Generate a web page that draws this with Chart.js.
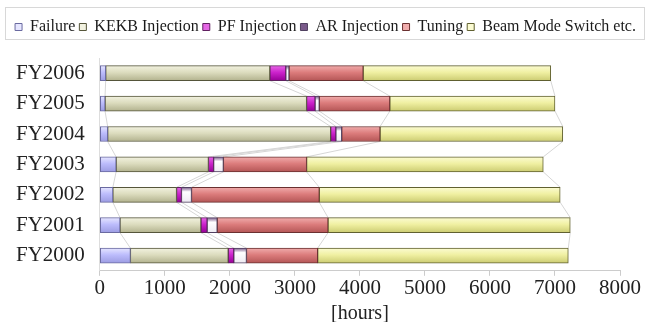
<!DOCTYPE html>
<html>
<head>
<meta charset="utf-8">
<script src="https://cdn.jsdelivr.net/npm/chart.js@4/dist/chart.umd.min.js"></script>
<style>
  html, body { margin: 0; padding: 0; background: #fff; }
  #wrap { width: 650px; height: 322px; }
</style>
</head>
<body>
<div id="wrap"><canvas id="chart" width="650" height="322"></canvas></div>
<script>
// fiscal years, top to bottom
var years = ['FY2006', 'FY2005', 'FY2004', 'FY2003', 'FY2002', 'FY2001', 'FY2000'];

// hours per category
var failure  = [90, 80, 120, 250, 200, 310, 470];
var kekbInj  = [2525, 3100, 3430, 1420, 980, 1245, 1505];
var pfInj    = [245, 130, 80, 80, 75, 95, 85];
var arInj    = [50, 65, 90, 150, 155, 155, 195];
var tuning   = [1140, 1085, 590, 1280, 1965, 1705, 1095];
var beamMode = [2885, 2540, 2810, 3640, 3705, 3725, 3855];

var xTicks = [0, 1000, 2000, 3000, 4000, 5000, 6000, 7000, 8000];

var serif = "'Liberation Serif', 'DejaVu Serif', serif";
var barH = 15;

// light / base / dark / border
var styles = {
  'Failure':               ['#e6e6ff', '#bcbcfc', '#9c9ce2', '#6a6aa0'],
  'KEKB Injection':        ['#f2f2e0', '#dcdcbe', '#b2b28e', '#55553a'],
  'PF Injection':          ['#e466e4', '#cc22cc', '#960096', '#602060'],
  'AR Injection':          ['#7a5a8a', '#ffffff', '#eeeaf2', '#504060'],
  'Tuning':                ['#f0acac', '#dc7c7c', '#b45656', '#6a3030'],
  'Beam Mode Switch etc.': ['#fbfbd2', '#f0f0a2', '#cccc72', '#606030']
};

function barFill(name) {
  var s = styles[name];
  return function(ctx) {
    if (ctx.type !== 'data' || !ctx.chart.scales.y) return s[1];
    var cy = ctx.chart.scales.y.getPixelForValue(ctx.dataIndex);
    if (!isFinite(cy)) return s[1];
    var g = ctx.chart.ctx.createLinearGradient(0, cy - barH / 2, 0, cy + barH / 2);
    if (name === 'AR Injection') {
      g.addColorStop(0, s[0]);
      g.addColorStop(0.3, s[1]);
      g.addColorStop(1, s[2]);
    } else {
      g.addColorStop(0, s[0]);
      g.addColorStop(0.45, s[1]);
      g.addColorStop(1, s[2]);
    }
    return g;
  };
}

function makeSet(name, values) {
  return {
    label: name,
    data: values,
    backgroundColor: barFill(name),
    borderColor: styles[name][3],
    borderWidth: 1,
    borderSkipped: false,
    barThickness: barH
  };
}

// thin grey lines joining segment ends of neighbouring bars
var seriesLines = {
  id: 'seriesLines',
  beforeDatasetsDraw: function(chart) {
    var c = chart.ctx;
    c.save();
    c.strokeStyle = '#d6d6d6';
    c.lineWidth = 1;
    chart.data.datasets.forEach(function(ds, di) {
      var bars = chart.getDatasetMeta(di).data;
      for (var i = 0; i < bars.length - 1; i++) {
        var a = bars[i], b = bars[i + 1];
        c.beginPath();
        c.moveTo(a.x, a.y + a.height / 2);
        c.lineTo(b.x, b.y - b.height / 2);
        c.stroke();
      }
    });
    c.restore();
  }
};

// more room under the legend, and a frame round it
var legendBox = {
  id: 'legendBox',
  beforeInit: function(chart) {
    var fit = chart.legend.fit;
    chart.legend.fit = function() {
      fit.bind(chart.legend)();
      this.height += 13;
    };
  },
  afterDraw: function(chart) {
    var l = chart.legend;
    var c = chart.ctx;
    c.save();
    c.strokeStyle = '#d8d8d8';
    c.lineWidth = 1;
    c.strokeRect(5.5, l.top - 7.5, chart.width - 11, 32);
    c.restore();
  }
};

new Chart(document.getElementById('chart'), {
  type: 'bar',
  data: {
    labels: years,
    datasets: [
      makeSet('Failure', failure),
      makeSet('KEKB Injection', kekbInj),
      makeSet('PF Injection', pfInj),
      makeSet('AR Injection', arInj),
      makeSet('Tuning', tuning),
      makeSet('Beam Mode Switch etc.', beamMode)
    ]
  },
  options: {
    indexAxis: 'y',
    responsive: false,
    animation: false,
    layout: { padding: { left: 1, right: 0, top: 15, bottom: -4 } },
    plugins: {
      tooltip: { enabled: false },
      legend: {
        position: 'top',
        labels: {
          boxWidth: 7,
          boxHeight: 7,
          padding: 4,
          color: '#1a1a1a',
          font: { family: serif, size: 16 }
        }
      }
    },
    scales: {
      x: {
        stacked: true,
        min: 0,
        max: 8000,
        afterBuildTicks: function(axis) {
          axis.ticks = xTicks.map(function(v) { return { value: v }; });
        },
        afterFit: function(axis) {
          axis.paddingRight = 30;
        },
        grid: { drawOnChartArea: false, tickLength: 5, color: '#cccccc' },
        border: { color: '#cccccc' },
        ticks: {
          color: '#222',
          padding: 0,
          font: { family: serif, size: 21 },
          callback: function(v) { return String(v); }
        },
        title: {
          display: true,
          text: '[hours]',
          color: '#222',
          padding: { top: 1, bottom: 0 },
          font: { family: serif, size: 20 }
        }
      },
      y: {
        stacked: true,
        grid: { drawOnChartArea: false, drawTicks: false },
        border: { color: '#dddddd' },
        ticks: { color: '#222', padding: 15, font: { family: serif, size: 21 } }
      }
    }
  },
  plugins: [seriesLines, legendBox]
});
</script>
</body>
</html>
